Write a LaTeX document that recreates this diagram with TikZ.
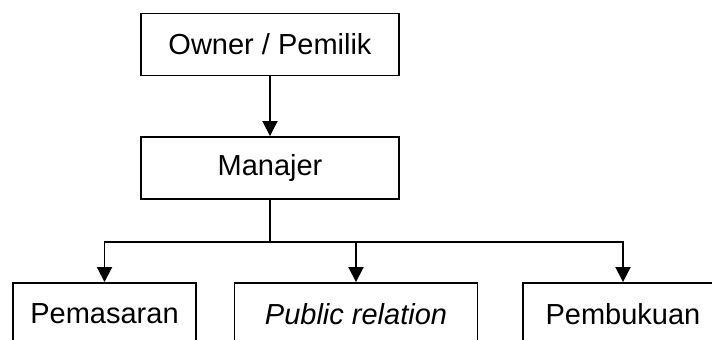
\documentclass[tikz,border=0pt]{standalone}
\usepackage{fontspec}
\setmainfont{Liberation Sans}
\usetikzlibrary{arrows.meta,positioning,calc}

\tikzset{
  box/.style={draw,line width=0.95pt,inner sep=0pt,minimum height=31pt,font=\fontsize{14.5}{17}\selectfont},
  arr/.style={line width=0.95pt,-{Triangle[width=7.5pt,length=7.5pt]}}
}

\begin{document}
\begin{tikzpicture}[x=0.5pt,y=-0.5pt]
\clip (0,0) rectangle (712,340);
% top levels
\node[box,minimum width=129pt] (owner) at (270,44.5) {Owner / Pemilik};
\node[box,minimum width=129pt] (manajer) at (270,168) {Manajer};
\draw[arr] (owner) -- (manajer);
% divisions
\foreach \n/\x/\w/\t in {pemasaran/104.5/91.5/Pemasaran,public/356/121.5/\textit{Public relation},pembukuan/623/100/Pembukuan}
  \node[box,minimum width=\w pt] (\n) at (\x,314) {\t};
\draw[line width=0.95pt] (manajer.south) -- ++(0,42) coordinate (split);
\foreach \n in {pemasaran,public,pembukuan} \draw[arr] (split) -| (\n.north);
\end{tikzpicture}
\end{document}
